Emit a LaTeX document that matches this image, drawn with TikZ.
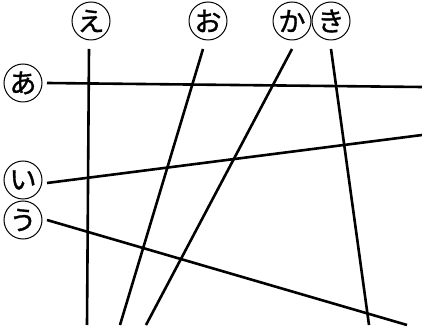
\documentclass[tikz,border=0pt]{standalone}
\usepackage{fontspec}
\usepackage{tikz}
\newfontfamily\jpfont[FakeBold=1.2]{Noto Sans CJK JP}
\tikzset{
  mark lbl/.style = {draw, circle, line width=1pt, minimum size=38pt,
                     inner sep=0pt, font=\jpfont\fontsize{27}{27}\selectfont},
  seg/.style      = {line width=2.6pt, line cap=butt}
}

\begin{document}
\begin{tikzpicture}[x=1pt, y=-1pt]
\useasboundingbox (0,0) rectangle (422,328);

% circled labels
\node[mark lbl] (la) at (23,83)  {あ};
\node[mark lbl] (li) at (23,180) {い};
\node[mark lbl] (lu) at (23,220) {う};
\node[mark lbl] (le) at (91,21)  {え};
\node[mark lbl] (lo) at (208,21) {お};
\node[mark lbl] (lk) at (292,21) {か};
\node[mark lbl] (lki) at (331,21) {き};

% line ends
\coordinate (a1) at (47,83);   \coordinate (a2) at (422,87);
\coordinate (i1) at (47,183);  \coordinate (i2) at (422,135);
\coordinate (u1) at (47,220);  \coordinate (u2) at (407,325);
\coordinate (e1) at (89,49);   \coordinate (e2) at (87,325);
\coordinate (o1) at (203,49);  \coordinate (o2) at (120,325);
\coordinate (k1) at (292,49);  \coordinate (k2) at (146,325);
\coordinate (ki1) at (331,49); \coordinate (ki2) at (369,325);

\draw[seg] (a1) -- (a2);
\draw[seg] (i1) -- (i2);
\draw[seg] (u1) -- (u2);
\draw[seg] (e1) -- (e2);
\draw[seg] (o1) -- (o2);
\draw[seg] (k1) -- (k2);
\draw[seg] (ki1) -- (ki2);
\end{tikzpicture}
\end{document}
